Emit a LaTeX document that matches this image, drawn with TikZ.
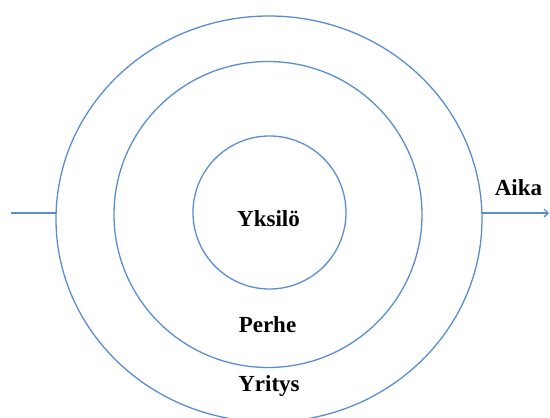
\documentclass[tikz,border=0pt]{standalone}
\usepackage{fontspec}
\setmainfont{Liberation Serif}
\usetikzlibrary{shapes.geometric,arrows.meta}
\definecolor{ringblue}{RGB}{91,141,206}
\tikzset{
  ring/.style={draw=ringblue, line width=1.3pt, ellipse, inner sep=0pt, outer sep=0pt},
  label/.style={font=\fontsize{23}{27}\selectfont\bfseries, text=black, inner sep=0pt, anchor=base},
  timeline/.style={draw=ringblue, line width=2.6pt}
}
\begin{document}
\begin{tikzpicture}[x=1pt,y=-1pt]
  \useasboundingbox (0,0) rectangle (550,418);
  % nested circles: company, family, individual
  \node[ring, minimum width=426pt, minimum height=406pt] (outer) at (269,219) {};
  \node[ring, minimum width=308pt, minimum height=306pt] (middle) at (268,214.5) {};
  \node[ring, minimum width=153pt, minimum height=153pt] (inner) at (269.5,212.5) {};
  % labels
  \node[label] (yksilo) at (268.5,226) {Yksilö};
  \node[label] (perhe) at (267.5,332) {Perhe};
  \node[label] (yritys) at (269,391) {Yritys};
  \node[label] (aika) at (518.5,195) {Aika};
  % time axis through the circles
  \coordinate (tstart) at (11,213);
  \coordinate (tend) at (549,213);
  \draw[timeline] (tstart) -- (tstart -| outer.west);
  \draw[timeline, -{Straight Barb[length=4pt,width=8pt,line width=1.3pt]}] (tend -| outer.east) -- (tend);
\end{tikzpicture}
\end{document}
